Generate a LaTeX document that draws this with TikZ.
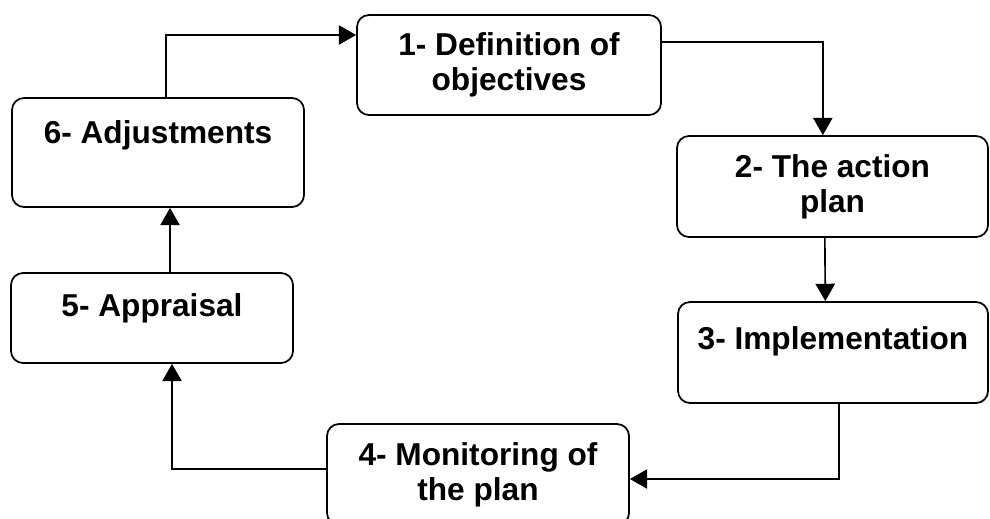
\documentclass[tikz,border=0pt]{standalone}
\usepackage{fontspec}
\setmainfont{Liberation Sans}
\usetikzlibrary{arrows.meta,positioning}

\begin{document}
\begin{tikzpicture}[
  x=0.03cm,y=-0.03cm,
  stage/.style={draw,line width=1.5pt,rounded corners=0.36cm,align=center,inner sep=2pt,
    font=\bfseries\fontsize{27}{30}\selectfont},
  arrow/.style={-{Triangle[length=0.52cm,width=0.58cm]},line width=1.4pt}
]
\useasboundingbox (0,0) rectangle (990,518);
\node[stage,minimum width=9.12cm,minimum height=3.0cm] (objectives) at (509,65) {1- Definition of\\objectives};
\node[stage,minimum width=9.33cm,minimum height=3.03cm] (plan) at (832.5,186.5) {2- The action\\plan};
\node[stage,minimum width=9.3cm,minimum height=3.03cm] (implement) at (833,352.5) {3- Implementation\\[-0.48cm]\strut};
\node[stage,minimum width=9.06cm,minimum height=3.03cm] (monitor) at (478,474.5) {4- Monitoring of\\the plan};
\node[stage,minimum width=8.46cm,minimum height=2.7cm] (appraisal) at (152,318) {5- Appraisal\\[-0.6cm]\strut};
\node[stage,minimum width=8.76cm,minimum height=3.27cm] (adjust) at (158,152.5) {6- Adjustments\\[-0.12cm]\strut};
\draw[arrow] ([xshift=0.24cm]adjust.north) |- ([yshift=0.9cm]objectives.west);
\draw[arrow] ([yshift=0.69cm]objectives.east) -| ([xshift=-0.29cm]plan.north);
\draw[arrow] ([xshift=-0.23cm]plan.south) -- ([xshift=-0.23cm]implement.north);
\draw[arrow] ([xshift=0.18cm]implement.south) |- ([yshift=-0.135cm]monitor.east);
\draw[arrow] ([yshift=0.165cm]monitor.west) -| ([xshift=0.6cm]appraisal.south);
\draw[arrow] ([xshift=0.54cm]appraisal.north) -- ([xshift=0.36cm]adjust.south);
\end{tikzpicture}
\end{document}
